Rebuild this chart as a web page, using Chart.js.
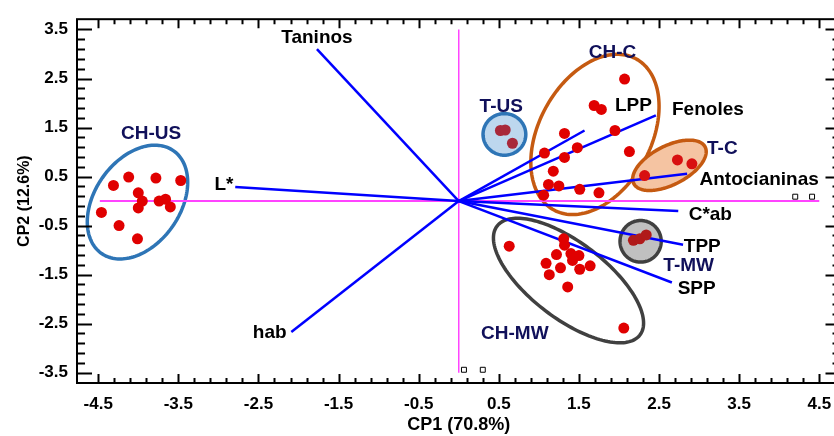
<!DOCTYPE html>
<html>
<head>
<meta charset="utf-8">
<script src="https://cdn.jsdelivr.net/npm/chart.js@4.4.0/dist/chart.umd.min.js"></script>
<style>
  html, body { margin: 0; padding: 0; background: #fff; overflow: hidden; }
  #wrap { width: 834px; height: 436px; overflow: hidden; }
</style>
</head>
<body>
<div id="wrap"><canvas id="pca" width="846" height="436"></canvas></div>
<script>
// puntos de las muestras (CP1, CP2)
const chUS = [[-4.46,-0.23],[-4.31,0.32],[-4.12,0.49],[-3.78,0.47],[-3.47,0.42],[-4.00,0.17],[-3.95,0.00],
  [-4.00,-0.14],[-3.74,0.00],[-3.66,0.04],[-3.60,-0.12],[-4.24,-0.50],[-4.01,-0.77]];
const chC = [[2.07,2.49],[1.69,1.95],[1.78,1.87],[1.95,1.44],[1.32,1.38],[1.48,1.09],[2.13,1.01],[1.07,0.98],
  [1.32,0.89],[1.18,0.61],[1.12,0.34],[1.25,0.31],[1.51,0.24],[1.75,0.17],[1.06,0.12]];
const tUS = [[0.52,1.44],[0.58,1.45],[0.67,1.18]];
const tC = [[2.73,0.84],[2.91,0.76],[2.32,0.52]];
const tMW = [[2.18,-0.80],[2.26,-0.77],[2.34,-0.69]];
const chMW = [[0.63,-0.92],[1.31,-0.77],[1.32,-0.90],[1.22,-1.09],[1.40,-1.07],[1.50,-1.11],[1.42,-1.21],
  [1.09,-1.27],[1.27,-1.36],[1.51,-1.39],[1.64,-1.32],[1.13,-1.50],[1.36,-1.75],[2.06,-2.59]];

// vectores de las variables
const varNames = ['Taninos','L*','hab','LPP','Fenoles','Antocianinas','C*ab','TPP','SPP'];
const varX = [-1.77,-2.79,-2.09,1.57,2.46,2.85,2.74,2.80,2.66];
const varY = [3.10,0.29,-2.67,1.44,1.75,0.56,-0.20,-0.89,-1.66];
const varLabelX = [-1.77,-2.93,-2.36,2.18,3.11,3.75,3.14,3.04,2.97];
const varLabelY = [3.34,0.34,-2.69,1.95,1.87,0.43,-0.27,-0.94,-1.79];

// grupos y elipses
const groupNames = ['CH-US','CH-C','T-US','T-C','T-MW','CH-MW'];
const groupLabelX = [-3.84,1.92,0.53,3.29,2.87,0.70];
const groupLabelY = [1.37,3.02,1.92,1.06,-1.32,-2.70];
const ellipseCX = [-4.01,1.70,0.57,2.63,2.27,1.37];
const ellipseCY = [-0.02,1.36,1.36,0.73,-0.82,-1.62];
const ellipseU = [[0.447,1.050],[0.511,1.543],[0.267,0],[0.445,0.375],[0.257,0],[0.891,-1.112]];
const ellipseV = [[-0.439,0.494],[-0.616,0.539],[0,0.424],[-0.112,0.351],[0,0.424],[0.290,0.614]];

const xTicks = [-4.5,-3.5,-2.5,-1.5,-0.5,0.5,1.5,2.5,3.5,4.5];
const yTicks = [-3.5,-2.5,-1.5,-0.5,0.5,1.5,2.5,3.5];

// cuadritos sueltos del original
const markX = [4.20,4.41,0.065,0.30];
const markY = [0.09,0.09,-3.44,-3.44];

const ellStroke = ['#2e75b6','#c55a11','#2e75b6','#c55a11','#404040','#404040'];
const ellFill = [null,null,'#bdd7ee','#f5c4a2','#c0c0c0',null];
const FONT = "'Liberation Sans', Arial, sans-serif";
const NAVY = '#10105a';

const toXY = arr => arr.map(p => ({ x: p[0], y: p[1] }));

const pointSet = (data, color) => ({
  type: 'scatter', data: toXY(data), backgroundColor: color, borderWidth: 0,
  pointRadius: 5.5, pointHoverRadius: 5.5
});

const datasets = [
  pointSet(chUS, '#e00000'),
  pointSet(chC, '#e00000'),
  pointSet(tUS, '#a8283a'),
  pointSet(tC, '#d81010'),
  pointSet(tMW, '#b01a1a'),
  pointSet(chMW, '#e00000'),
  {
    type: 'scatter', data: markX.map((x, i) => ({ x, y: markY[i] })),
    pointStyle: 'rect', pointRadius: 3.5, backgroundColor: '#fff', borderColor: '#000', borderWidth: 1
  }
];
varNames.forEach((n, i) => {
  datasets.push({
    type: 'line', data: [{ x: 0, y: 0 }, { x: varX[i], y: varY[i] }],
    borderColor: '#0000ff', borderWidth: 2.5, pointRadius: 0, fill: false
  });
});
// ejes magenta
datasets.push({ type: 'line', data: [{ x: -4.48, y: 0 }, { x: 4.5, y: 0 }], borderColor: '#ff44ff', borderWidth: 2, pointRadius: 0 });
datasets.push({ type: 'line', data: [{ x: 0, y: -3.5 }, { x: 0, y: 3.5 }], borderColor: '#ff44ff', borderWidth: 1.5, pointRadius: 0 });

const ellipsePlugin = {
  id: 'ellipses',
  beforeDatasetsDraw(chart) {
    const { ctx, scales: { x, y } } = chart;
    ellipseCX.forEach((cx, k) => {
      ctx.save();
      ctx.beginPath();
      for (let i = 0; i <= 160; i++) {
        const t = i / 160 * Math.PI * 2;
        const vx = cx + ellipseU[k][0] * Math.cos(t) + ellipseV[k][0] * Math.sin(t);
        const vy = ellipseCY[k] + ellipseU[k][1] * Math.cos(t) + ellipseV[k][1] * Math.sin(t);
        const px = x.getPixelForValue(vx), py = y.getPixelForValue(vy);
        if (i === 0) ctx.moveTo(px, py); else ctx.lineTo(px, py);
      }
      ctx.closePath();
      if (ellFill[k]) { ctx.fillStyle = ellFill[k]; ctx.fill(); }
      ctx.lineWidth = 3.5;
      ctx.strokeStyle = ellStroke[k];
      ctx.stroke();
      ctx.restore();
    });
  }
};

const labelPlugin = {
  id: 'labels',
  afterDatasetsDraw(chart) {
    const { ctx, scales: { x, y } } = chart;
    ctx.save();
    ctx.textAlign = 'center';
    ctx.textBaseline = 'middle';
    ctx.font = 'bold 19px ' + FONT;
    ctx.fillStyle = '#000';
    varNames.forEach((n, i) => {
      ctx.fillText(n, x.getPixelForValue(varLabelX[i]), y.getPixelForValue(varLabelY[i]));
    });
    ctx.fillStyle = NAVY;
    groupNames.forEach((n, i) => {
      ctx.fillText(n, x.getPixelForValue(groupLabelX[i]), y.getPixelForValue(groupLabelY[i]));
    });
    ctx.restore();
  }
};

// marco con marcas hacia dentro (mayores cada 1, menores cada 0.2)
const framePlugin = {
  id: 'frame',
  afterDraw(chart) {
    const { ctx, chartArea: a, scales: { x, y } } = chart;
    ctx.save();
    ctx.strokeStyle = '#000';
    ctx.lineWidth = 2;
    ctx.strokeRect(a.left, a.top, a.right - a.left, a.bottom - a.top);
    ctx.beginPath();
    for (let k = 0; k <= 45; k++) {
      const px = Math.round(x.getPixelForValue(-4.5 + 0.2 * k)) + 0.5;
      const len = k % 5 === 0 ? 9 : 5;
      ctx.moveTo(px, a.bottom); ctx.lineTo(px, a.bottom - len);
      ctx.moveTo(px, a.top); ctx.lineTo(px, a.top + len);
    }
    for (let k = 0; k <= 35; k++) {
      const py = Math.round(y.getPixelForValue(-3.5 + 0.2 * k)) + 0.5;
      const len = k % 5 === 0 ? 15 : 8;
      ctx.moveTo(a.left, py); ctx.lineTo(a.left + len, py);
      ctx.moveTo(a.right, py); ctx.lineTo(a.right - len, py);
    }
    ctx.stroke();
    ctx.restore();
  }
};

new Chart(document.getElementById('pca'), {
  type: 'scatter',
  data: { datasets },
  options: {
    responsive: false,
    animation: false,
    devicePixelRatio: 1,
    layout: { padding: { top: 15, right: 1, left: 0, bottom: 0 } },
    plugins: { legend: { display: false }, tooltip: { enabled: false } },
    scales: {
      x: {
        type: 'linear', min: -4.765, max: 4.765,
        grid: { display: false, drawTicks: false },
        border: { display: false },
        afterBuildTicks: s => { s.ticks = xTicks.map(v => ({ value: v })); },
        afterFit: s => { s.height = 53; },
        ticks: {
          color: '#000', padding: 11, maxRotation: 0, autoSkip: false,
          font: { family: FONT, weight: 'bold', size: 17 },
          callback: v => v.toFixed(1)
        },
        title: {
          display: true, text: 'CP1 (70.8%)', color: '#000',
          font: { family: FONT, weight: 'bold', size: 18 }, padding: { top: 0, bottom: 0 }
        }
      },
      y: {
        type: 'linear', min: -3.71, max: 3.71,
        grid: { display: false, drawTicks: false },
        border: { display: false },
        afterBuildTicks: s => { s.ticks = yTicks.map(v => ({ value: v })); },
        afterFit: s => { s.width = 77; },
        ticks: {
          color: '#000', padding: 9, autoSkip: false,
          font: { family: FONT, weight: 'bold', size: 17 },
          callback: v => v.toFixed(1)
        },
        title: {
          display: true, text: 'CP2 (12.6%)', color: '#000',
          font: { family: FONT, weight: 'bold', size: 16 }, padding: { top: 15, bottom: 0 }
        }
      }
    }
  },
  plugins: [ellipsePlugin, labelPlugin, framePlugin]
});
</script>
</body>
</html>
